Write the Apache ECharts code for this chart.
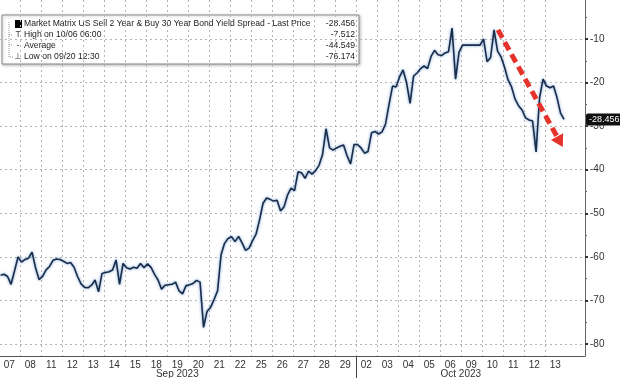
<!DOCTYPE html>
<html>
<head>
<meta charset="utf-8">
<script src="https://cdn.jsdelivr.net/npm/echarts@6/dist/echarts.min.js"></script>
<style>
html, body { margin: 0; padding: 0; background: #fff; }
#chart { width: 620px; height: 378px; }
</style>
</head>
<body>
<div id="chart"></div>
<script>
// trading days shown on the x axis
var dayLabels = ['07', '08', '11', '12', '13', '14', '15', '18', '19', '20', '21', '22', '25', '26', '27', '28', '29',
	'02', '03', '04', '05', '06', '09', '10', '11', '12', '13'];
var monthLabels = ['Sep 2023', 'Oct 2023'];
var monthStartDay = [0, 17];

// spread, six readings per trading day
var spreadByDay = [
	[-64.2, -64.0, -64.5, -66.3, -63.2, -60.0],
	[-61.2, -60.6, -60.3, -58.9, -62.5, -65.2],
	[-64.5, -63.0, -62.2, -60.8, -60.5, -60.6],
	[-61.0, -61.5, -61.3, -62.4, -64.5, -66.2],
	[-67.0, -67.1, -66.5, -65.3, -68.0, -63.8],
	[-63.6, -63.4, -63.0, -60.7, -66.3, -61.5],
	[-62.5, -62.8, -62.4, -62.6, -61.5, -62.5],
	[-61.6, -62.4, -64.0, -65.3, -67.4, -66.5],
	[-66.4, -66.3, -65.8, -67.8, -68.5, -66.6],
	[-66.4, -66.1, -65.4, -65.8, -76.174, -72.5],
	[-71.6, -69.8, -67.8, -59.5, -56.9, -55.8],
	[-55.4, -56.5, -55.3, -56.8, -58.5, -58.0],
	[-56.3, -54.8, -51.5, -47.7, -46.5, -46.8],
	[-47.2, -47.0, -49.5, -48.5, -45.8, -44.2],
	[-44.8, -40.5, -40.7, -42.0, -40.3, -41.0],
	[-40.2, -39.0, -36.5, -30.6, -35.0, -35.5],
	[-35.0, -34.6, -34.3, -36.8, -38.7, -34.2],
	[-34.2, -35.0, -36.2, -35.8, -31.5, -31.2],
	[-31.8, -31.3, -29.5, -25.0, -20.8, -21.0],
	[-18.7, -17.1, -20.0, -24.8, -18.5, -17.8],
	[-16.8, -16.2, -16.8, -14.0, -12.6, -13.6],
	[-13.8, -13.2, -12.9, -7.512, -19.2, -13.0],
	[-11.4, -11.4, -11.4, -11.4, -11.4, -11.4],
	[-10.0, -15.2, -14.3, -7.9, -12.8, -14.1],
	[-16.5, -19.4, -21.0, -23.8, -25.3, -26.3],
	[-28.1, -28.6, -28.8, -35.9, -23.5, -19.2],
	[-20.8, -21.2, -20.8, -23.5, -27.0, -28.456]
];

var yTicks = [-10, -20, -30, -40, -50, -60, -70, -80];
var yMinorTicks = [-5, -15, -25, -35, -45, -55, -65, -75];

var legendTitle = 'Market Matrix US Sell 2 Year & Buy 30 Year Bond Yield Spread - Last Price';
var statNames = ['High on 10/06 06:00', 'Average', 'Low on 09/20 12:30'];
var lastPrice = -28.456;
var statValues = [-7.512, -44.549, -76.174];

// hand drawn red arrow, [day, spread]
var arrowFrom = [23.77, -7.9];
var arrowTo = [26.72, -33.6];

var xMin = 0.057, xMax = 27.914;
var yMin = -82.75, yMax = -1.05;

var seriesData = [];
spreadByDay.forEach(function (day, d) {
	day.forEach(function (v, k) {
		seriesData.push([d + (k + 0.5) / day.length, v]);
	});
});

var dayCenters = dayLabels.map(function (s, i) { return i + 0.5; });
var dayBounds = [];
for (var i = 1; i < dayLabels.length; i++) {
	dayBounds.push(i);
}
var monthCenters = monthStartDay.map(function (s, i) {
	var end = i + 1 < monthStartDay.length ? monthStartDay[i + 1] : dayLabels.length;
	return (s + end) / 2;
});

var font = 'Liberation Sans, Arial, sans-serif';
var legendFont = '8.6px ' + font;
var dotted = { color: '#b4b4b4', width: 1, type: [2, 3] };

var legendRows = [
	{ type: 'rect', shape: { x: 2, y: 15, width: 357, height: 49 },
		style: { fill: '#fff', stroke: '#8a8a8a', lineWidth: 1, shadowBlur: 3, shadowColor: 'rgba(0,0,0,0.25)', shadowOffsetX: 1, shadowOffsetY: 1 } },
	{ type: 'polyline', shape: { points: [[9, 22], [9, 57], [13, 57]] }, style: { stroke: '#999', lineWidth: 1, lineDash: [1, 1] } },
	{ type: 'polyline', shape: { points: [[9, 35], [13, 35]] }, style: { stroke: '#999', lineWidth: 1, lineDash: [1, 1] } },
	{ type: 'polyline', shape: { points: [[9, 45], [13, 45]] }, style: { stroke: '#999', lineWidth: 1, lineDash: [1, 1] } },
	{ type: 'rect', shape: { x: 15, y: 20, width: 7, height: 8 }, style: { fill: '#000' } },
	{ type: 'text', x: 24, y: 24, style: { text: legendTitle, font: legendFont, fill: '#222', verticalAlign: 'middle' } },
	{ type: 'text', x: 355, y: 24, style: { text: lastPrice.toFixed(3), font: legendFont, fill: '#222', align: 'right', verticalAlign: 'middle' } }
];
var statIcons = ['T', '-', '\u22A5'];
statNames.forEach(function (name, i) {
	var y = 35 + i * 11;
	legendRows.push({ type: 'text', x: 18, y: y, style: { text: statIcons[i], font: legendFont, fill: '#444', align: 'center', verticalAlign: 'middle' } });
	legendRows.push({ type: 'text', x: 24, y: y, style: { text: name, font: legendFont, fill: '#222', verticalAlign: 'middle' } });
	legendRows.push({ type: 'text', x: 355, y: y, style: { text: statValues[i].toFixed(3), font: legendFont, fill: '#222', align: 'right', verticalAlign: 'middle' } });
});

var chart = echarts.init(document.getElementById('chart'), null, { renderer: 'canvas' });
chart.setOption({
	animation: false,
	backgroundColor: '#fff',
	textStyle: { fontFamily: font },
	grid: { left: 0, right: 35, top: 0, bottom: 22, containLabel: false, outerBoundsMode: 'none' },
	xAxis: [{
		type: 'value', min: xMin, max: xMax, position: 'bottom',
		axisLine: { show: true, onZero: false, lineStyle: { color: '#555', width: 1 } },
		axisTick: { show: false, customValues: dayBounds },
		axisLabel: {
			customValues: dayCenters, margin: 4, fontSize: 10, color: '#333',
			formatter: function (v) { return dayLabels[Math.floor(v)]; }
		},
		splitLine: { show: true, lineStyle: dotted }
	}, {
		type: 'value', min: xMin, max: xMax, position: 'bottom',
		axisLine: { show: false, onZero: false },
		axisTick: { show: true, customValues: [monthStartDay[1]], length: 22, lineStyle: { color: '#444', width: 1 } },
		axisLabel: {
			customValues: monthCenters, margin: 13, fontSize: 10, color: '#333',
			formatter: function (v) { return monthLabels[monthCenters.indexOf(v)]; }
		},
		splitLine: { show: false }
	}],
	yAxis: [{
		type: 'value', min: yMin, max: yMax, position: 'right',
		axisLine: { show: true, onZero: false, lineStyle: { color: '#666', width: 1 } },
		axisTick: { show: true, customValues: yTicks, length: 3, lineStyle: { color: '#333', width: 2 } },
		axisLabel: { customValues: yTicks, margin: 5, fontSize: 10, color: '#333' },
		splitLine: { show: true, lineStyle: dotted }
	}, {
		type: 'value', min: yMin, max: yMax, position: 'right',
		axisLine: { show: false },
		axisTick: { show: true, customValues: yMinorTicks, length: 2, lineStyle: { color: '#666', width: 1 } },
		axisLabel: { show: false },
		splitLine: { show: false }
	}, {
		type: 'value', min: yMin, max: yMax, position: 'right',
		axisLine: { show: false },
		axisTick: { show: false },
		axisLabel: {
			customValues: [lastPrice], margin: 1, fontSize: 9, color: '#fff',
			backgroundColor: '#111', padding: [2, 3, 1, 3], borderRadius: 2,
			formatter: function (v) { return v.toFixed(3); }
		},
		splitLine: { show: false }
	}],
	series: [{
		type: 'line',
		data: seriesData,
		showSymbol: false,
		lineStyle: { color: '#1b2c48', width: 1.6, shadowColor: 'rgba(70,130,200,0.8)', shadowBlur: 3 },
		z: 3,
		markLine: {
			silent: true,
			symbol: ['none', 'triangle'],
			symbolSize: [14, 12],
			label: { show: false },
			lineStyle: { color: '#e5322b', width: 5, type: [9, 5] },
			data: [[{ coord: arrowFrom }, { coord: arrowTo }]]
		}
	}],
	graphic: legendRows
});
</script>
</body>
</html>
